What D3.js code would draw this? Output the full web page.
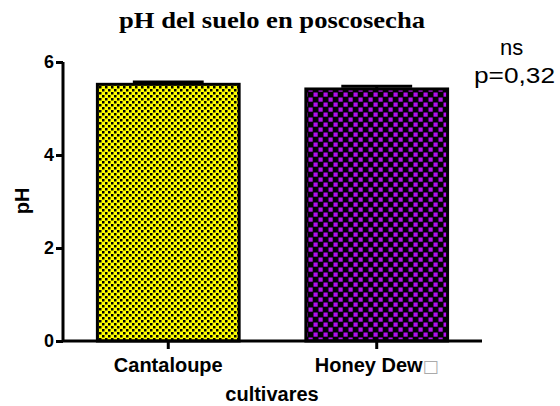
<!DOCTYPE html>
<html>
<head>
<meta charset="utf-8">
<script src="https://cdn.jsdelivr.net/npm/d3@7"></script>
<style>
  body { margin: 0; background: #fff; }
  text { font-family: "Liberation Sans", Arial, sans-serif; }
</style>
</head>
<body>
<div id="chart"></div>
<script>
// data
const cultivars = ["Cantaloupe", "Honey Dew"];
const phMeans = [5.52, 5.42];
const phErrors = [0.05, 0.06];
const yTicks = [0, 2, 4, 6];
const statLines = ["ns", "p=0,32"];

const width = 560, height = 406;
const margin = { top: 62, right: 78, bottom: 65, left: 63 };
const chartWidth = width - margin.left - margin.right;
const chartHeight = height - margin.top - margin.bottom;

const svg = d3.select("#chart").append("svg")
    .attr("width", width)
    .attr("height", height);

// ---- patterns ----
const defs = svg.append("defs");
const pYellow = defs.append("pattern")
    .attr("id", "pat-yellow")
    .attr("patternUnits", "userSpaceOnUse")
    .attr("width", 6).attr("height", 6);
pYellow.append("rect").attr("width", 6).attr("height", 6).attr("fill", "#ffff00");
pYellow.append("rect").attr("x", 0).attr("y", 0).attr("width", 2.5).attr("height", 2.5).attr("fill", "#000");
pYellow.append("rect").attr("x", 3).attr("y", 3).attr("width", 2.5).attr("height", 2.5).attr("fill", "#000");

const pPurple = defs.append("pattern")
    .attr("id", "pat-purple")
    .attr("patternUnits", "userSpaceOnUse")
    .attr("width", 10).attr("height", 10);
pPurple.append("rect").attr("width", 10).attr("height", 10).attr("fill", "#000");
pPurple.append("rect").attr("x", 0.5).attr("y", 0.5).attr("width", 4.2).attr("height", 4.2).attr("fill", "#b012ea");
pPurple.append("rect").attr("x", 5.5).attr("y", 5.5).attr("width", 4.2).attr("height", 4.2).attr("fill", "#b012ea");

const fills = ["url(#pat-yellow)", "url(#pat-purple)"];

const g = svg.append("g")
    .attr("transform", `translate(${margin.left},${margin.top})`);

// ---- scales ----
const x = d3.scaleBand()
    .domain(cultivars)
    .range([0, chartWidth])
    .paddingInner(0.32)
    .paddingOuter(0.165);

const y = d3.scaleLinear()
    .domain([0, 6])
    .range([chartHeight, 0]);

const data = cultivars.map((c, i) => ({ name: c, mean: phMeans[i], err: phErrors[i], fill: fills[i] }));

// ---- error bars (drawn behind bars) ----
const capHalf = x.bandwidth() / 4;
g.selectAll(".err")
    .data(data)
    .join("g")
    .attr("class", "err")
    .each(function(d) {
        const cx = x(d.name) + x.bandwidth() / 2;
        const sel = d3.select(this);
        sel.append("line")
            .attr("x1", cx).attr("x2", cx)
            .attr("y1", y(d.mean)).attr("y2", y(d.mean + d.err))
            .attr("stroke", "#000").attr("stroke-width", 3);
        sel.append("line")
            .attr("x1", cx - capHalf).attr("x2", cx + capHalf)
            .attr("y1", y(d.mean + d.err)).attr("y2", y(d.mean + d.err))
            .attr("stroke", "#000").attr("stroke-width", 3);
    });

// ---- bars ----
g.selectAll(".bar")
    .data(data)
    .join("rect")
    .attr("class", "bar")
    .attr("x", d => x(d.name))
    .attr("y", d => y(d.mean))
    .attr("width", x.bandwidth())
    .attr("height", d => y(0) - y(d.mean))
    .attr("fill", d => d.fill)
    .attr("stroke", "#000")
    .attr("stroke-width", 3);

// ---- axes ----
const yAxis = g.append("g")
    .call(d3.axisLeft(y).tickValues(yTicks).tickFormat(d3.format("d")).tickSize(7).tickPadding(2));
yAxis.select(".domain").attr("d", `M0,${y(6)}V${y(0)}`).attr("stroke-width", 3);
yAxis.selectAll(".tick line").attr("stroke-width", 3);
yAxis.selectAll(".tick text")
    .attr("font-size", 18).attr("font-weight", "bold")
    .attr("font-family", "Liberation Sans, Arial, sans-serif");

const xAxis = g.append("g")
    .attr("transform", `translate(0,${chartHeight})`)
    .call(d3.axisBottom(x).tickSize(8).tickPadding(4));
xAxis.select(".domain").attr("d", `M0,0H${chartWidth}`).attr("stroke-width", 3);
xAxis.selectAll(".tick line").attr("stroke-width", 3);
xAxis.selectAll(".tick text")
    .attr("font-size", 20).attr("font-weight", "bold")
    .attr("font-family", "Liberation Sans, Arial, sans-serif")
    .attr("dy", "0.95em")
    .each(function(d) {
        if (d === "Honey Dew") {
            const t = d3.select(this).text(d);
            t.append("tspan")
                .attr("fill", "#aaa")
                .attr("font-weight", "normal")
                .attr("font-family", "DejaVu Sans")
                .attr("font-size", 17)
                .text("\u25A1");
        }
    });

// ---- labels ----
svg.append("text")
    .attr("x", 272).attr("y", 28)
    .attr("text-anchor", "middle")
    .style("font-family", "'Liberation Serif', 'Times New Roman', serif")
    .attr("font-weight", "bold")
    .attr("font-size", 24)
    .attr("textLength", 306)
    .attr("lengthAdjust", "spacingAndGlyphs")
    .text("pH del suelo en poscosecha");

svg.append("text")
    .attr("transform", "translate(29,201) rotate(-90)")
    .attr("text-anchor", "middle")
    .attr("font-weight", "bold")
    .attr("font-size", 20)
    .text("pH");

svg.append("text")
    .attr("x", 272).attr("y", 401)
    .attr("text-anchor", "middle")
    .attr("font-weight", "bold")
    .attr("font-size", 20)
    .text("cultivares");

svg.selectAll(".stat")
    .data(statLines)
    .join("text")
    .attr("class", "stat")
    .attr("x", (d, i) => i === 0 ? 500 : 474)
    .attr("y", (d, i) => 55 + i * 28)
    .attr("font-size", 22)
    .each(function(d, i) {
        if (i === 1) d3.select(this).attr("textLength", 81).attr("lengthAdjust", "spacingAndGlyphs");
    })
    .text(d => d);
</script>
</body>
</html>
